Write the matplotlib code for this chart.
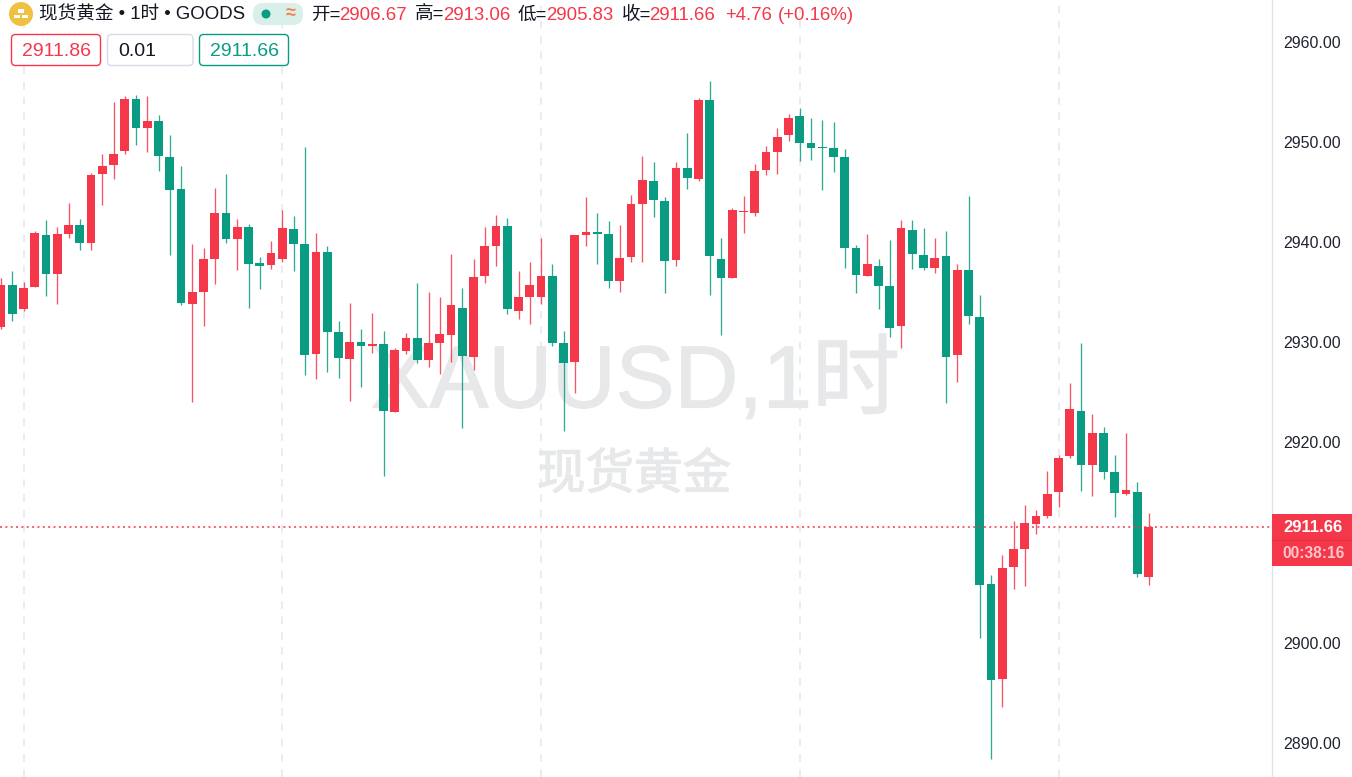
import matplotlib
matplotlib.use("Agg")
import matplotlib.pyplot as plt
import matplotlib.patheffects as pe
from matplotlib.patches import Circle, FancyBboxPatch, Rectangle
from matplotlib.transforms import ScaledTranslation

plt.rcParams['font.family'] = ['Liberation Sans', 'Noto Sans CJK SC', 'DejaVu Sans']

opens = [2931.68,2935.85,2933.42,2935.68,2940.85,2936.98,2940.92,2941.82,2940.02,2946.95,
         2947.88,2949.28,2954.48,2951.55,2952.25,2948.68,2945.42,2933.95,2935.18,2938.45,
         2943.02,2940.42,2941.62,2938.08,2937.85,2938.42,2941.48,2939.95,2928.92,2939.18,
         2931.12,2928.45,2930.15,2929.72,2929.92,2923.15,2929.22,2930.52,2928.38,2930.08,
         2930.85,2933.55,2928.65,2936.72,2939.72,2941.75,2933.25,2934.68,2934.68,2936.75,
         2930.08,2928.12,2940.85,2941.15,2940.95,2936.25,2938.65,2943.98,2946.28,2944.28,
         2938.35,2947.58,2946.48,2954.35,2938.45,2936.52,2943.12,2943.08,2947.38,2949.18,
         2950.82,2952.78,2950.02,2949.65,2949.52,2948.62,2939.55,2936.75,2937.75,2935.78,
         2931.72,2941.35,2938.85,2937.58,2938.72,2928.85,2937.35,2932.68,2905.95,2896.42,
         2907.65,2909.45,2911.98,2912.72,2915.12,2918.72,2923.28,2917.85,2921.05,2917.15,
         2914.98,2915.18,2906.67]
closes = [2935.85,2932.95,2935.58,2941.02,2936.98,2940.92,2941.82,2940.02,2946.85,2947.78,
          2948.95,2954.48,2951.58,2952.22,2948.78,2945.35,2934.02,2935.12,2938.42,2943.02,
          2940.48,2941.68,2937.95,2937.75,2939.02,2941.58,2939.95,2928.85,2939.18,2931.15,
          2928.52,2930.18,2929.78,2929.98,2923.22,2929.32,2930.52,2928.35,2930.02,2930.95,
          2933.82,2928.72,2936.68,2939.75,2941.75,2933.45,2934.65,2935.82,2936.75,2930.05,
          2928.05,2940.85,2941.18,2940.98,2936.25,2938.52,2943.95,2946.35,2944.32,2938.28,
          2947.58,2946.52,2954.35,2938.75,2936.52,2943.38,2943.25,2947.28,2949.12,2950.62,
          2952.55,2950.08,2949.58,2949.55,2948.68,2939.52,2936.85,2937.95,2935.75,2931.55,
          2941.58,2938.92,2937.55,2938.58,2928.65,2937.35,2932.72,2905.82,2896.38,2907.58,
          2909.42,2912.08,2912.72,2914.95,2918.55,2923.45,2917.82,2921.05,2917.18,2915.02,
          2915.35,2906.92,2911.66]
highs = [2936.55,2937.28,2936.18,2941.28,2942.35,2941.68,2944.02,2942.48,2947.02,2948.95,
         2954.18,2954.78,2954.85,2954.78,2952.85,2950.82,2947.75,2939.92,2939.58,2945.52,
         2946.95,2942.45,2941.92,2938.68,2940.22,2943.35,2942.75,2949.68,2941.02,2939.75,
         2932.28,2934.02,2931.42,2933.02,2931.25,2929.52,2931.02,2936.02,2935.15,2934.68,
         2938.98,2935.55,2938.42,2941.62,2942.85,2942.58,2937.25,2938.12,2940.52,2937.95,
         2931.25,2940.85,2944.68,2943.02,2942.25,2941.82,2944.85,2948.75,2948.18,2944.68,
         2948.12,2951.08,2954.52,2956.25,2940.52,2943.55,2944.75,2947.95,2949.78,2951.52,
         2952.98,2953.55,2952.52,2952.32,2952.12,2949.45,2939.82,2940.95,2938.42,2940.32,
         2942.32,2942.32,2941.52,2940.58,2941.28,2937.95,2944.75,2934.85,2906.82,2908.85,
         2912.28,2913.82,2913.32,2917.25,2918.88,2926.02,2930.02,2922.98,2921.62,2918.82,
         2921.02,2916.15,2913.06]
lows = [2931.45,2932.28,2933.28,2935.68,2934.75,2933.95,2940.58,2939.32,2939.35,2943.82,
        2946.48,2948.98,2949.85,2949.18,2947.28,2938.85,2933.82,2924.18,2931.75,2935.95,
        2940.02,2937.32,2933.58,2935.48,2937.48,2938.18,2937.25,2926.85,2926.45,2927.15,
        2926.58,2924.25,2925.62,2929.05,2916.75,2923.15,2928.95,2928.02,2927.62,2926.95,
        2928.15,2921.58,2927.35,2936.08,2937.78,2932.98,2932.42,2931.98,2933.92,2929.72,
        2921.28,2925.08,2939.78,2937.92,2935.52,2935.18,2938.15,2938.12,2942.62,2935.02,
        2937.75,2945.42,2946.28,2934.82,2930.82,2936.52,2941.02,2942.78,2946.85,2946.98,
        2950.25,2948.25,2948.32,2945.35,2947.12,2937.52,2935.02,2936.75,2933.48,2930.65,
        2929.55,2937.48,2937.35,2937.08,2924.02,2926.18,2931.98,2900.58,2888.42,2893.68,
        2905.48,2905.75,2910.92,2912.58,2913.68,2918.58,2915.25,2914.72,2916.48,2912.68,
        2914.85,2906.68,2905.83]

price_ticks = [2890, 2900, 2920, 2930, 2940, 2950, 2960]
grid_bars = [2, 25, 48, 71, 94]
last_price = 2911.66

RED = '#f5374a'
GREEN = '#0a9c82'
TICK = '#1f2430'
DARK = '#131722'

W, H = 1352, 777
fig = plt.figure(figsize=(W / 100, H / 100), dpi=100, facecolor='white')
ax = fig.add_axes([0, 0, 1272 / W, 1])
bar_px = 11.25
ax.set_xlim(-1 / bar_px, 1271 / bar_px)
ax.set_ylim(2964.35 - 77.7, 2964.35)
for s in ['top', 'left', 'bottom']:
    ax.spines[s].set_visible(False)
ax.spines['right'].set_color('#e0e3eb')
ax.spines['right'].set_linewidth(1)
ax.set_xticks([])
ax.yaxis.tick_right()
ax.set_yticks(price_ticks)
ax.set_yticklabels([f'{p:.2f}' for p in price_ticks], fontsize=11.5, color=TICK)
ax.tick_params(axis='y', length=0, pad=8)
for lab in ax.get_yticklabels():
    lab.set_transform(lab.get_transform() + ScaledTranslation(0, 1 / 100, fig.dpi_scale_trans))

for g in grid_bars:
    ax.axvline(g, color='#e6e7ef', lw=1.1, dashes=(5, 5), zorder=1)

wm = [pe.withStroke(linewidth=0.9, foreground='#e7e8ea')]
ax.text(0.4995, 2964.35 - 38.3, 'XAUUSD,1时', transform=ax.get_yaxis_transform(),
        ha='center', va='center', fontsize=63.5, color='#e7e8ea', zorder=0, path_effects=wm)
ax.text(0.4985, 2964.35 - 47.1, '现货黄金', transform=ax.get_yaxis_transform(),
        ha='center', va='center_baseline', fontsize=35, color='#e7e8ea', zorder=0, path_effects=wm)

xs = range(len(opens))
colors = [RED if c >= o else GREEN for o, c in zip(opens, closes)]
ax.vlines(xs, lows, highs, colors=colors, lw=0.95, zorder=3, alpha=0.85)
ax.bar(xs, [abs(c - o) for o, c in zip(opens, closes)],
       bottom=[min(o, c) for o, c in zip(opens, closes)],
       width=8.6 / bar_px, color=colors, linewidth=0, zorder=4)
ax.axhline(last_price, color=RED, lw=1.1, dashes=(1.3, 2.2), zorder=5)

ov = fig.add_axes([0, 0, 1, 1], facecolor='none')
ov.set_xlim(0, W)
ov.set_ylim(H, 0)
ov.axis('off')

ov.add_patch(Circle((21, 14), 12, fc='#f0c043', ec='none'))
ov.add_patch(Rectangle((18, 9), 6, 3.5, fc='white', ec='none'))
ov.add_patch(Rectangle((14, 14.5), 6, 3.5, fc='white', ec='none'))
ov.add_patch(Rectangle((22, 14.5), 6, 3.5, fc='white', ec='none'))

def txt(x, y, s, color=DARK, size=13.4, **kw):
    ov.text(x, y, s, color=color, fontsize=size, ha=kw.pop('ha', 'left'), va='center', **kw)

txt(39, 15, '现货黄金 • 1时 • GOODS')
ov.add_patch(FancyBboxPatch((253, 3), 50, 22, boxstyle='round,pad=0,rounding_size=10',
                            fc='#d9efea', ec='none'))
ov.add_patch(Circle((266, 14), 4.5, fc=GREEN, ec='none'))
txt(291, 14, '≈', color='#f5824f', size=13, ha='center', fontweight='bold')

txt(311, 15, '开=')
txt(339, 15, '2906.67', RED)
txt(415, 15, '高=')
txt(443, 15, '2913.06', RED)
txt(518, 15, '低=')
txt(546.5, 15, '2905.83', RED)
txt(622, 15, '收=')
txt(649.5, 15, '2911.66', RED)
txt(725, 15, '+4.76', RED)
txt(778, 15, '(+0.16%)', RED)

for x0, x1, ec, s, c, tx in [(11.5, 100.5, RED, '2911.86', RED, 22),
                             (107.5, 193, '#d9dbe6', '0.01', DARK, 118),
                             (199.5, 288.5, GREEN, '2911.66', GREEN, 210)]:
    ov.add_patch(FancyBboxPatch((x0, 34.5), x1 - x0, 31, boxstyle='round,pad=0,rounding_size=4',
                                fc='white', ec=ec, lw=1.0))
    txt(tx, 51, s, c, 14)

ov.add_patch(Rectangle((1272, 514), 80, 52, fc=RED, ec='none'))
ov.plot([1272, 1352], [540, 540], color='#e8323f', lw=0.8)
txt(1313.5, 528, '2911.66', 'white', 12, ha='center', fontweight='bold')
txt(1313.5, 554, '00:38:16', '#ffc4ca', 11.2, ha='center', fontweight='bold')

fig.savefig('out.png', dpi=100)
